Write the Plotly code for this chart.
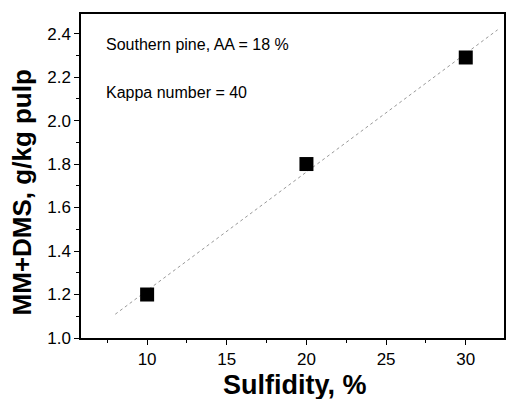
import numpy as np
import plotly.graph_objects as go

sulfidity = [10, 20, 30]
mm_dms = [1.2, 1.8, 2.29]

coef = np.polyfit(sulfidity, mm_dms, 1)
fit_x = [8, 32]
fit_y = [float(np.polyval(coef, v)) for v in fit_x]

fig = go.Figure()
fig.add_trace(go.Scatter(x=fit_x, y=fit_y, mode="lines",
                         line=dict(color="#999", width=1, dash="dot"), showlegend=False))
fig.add_trace(go.Scatter(x=sulfidity, y=mm_dms, mode="markers",
                         marker=dict(symbol="square", size=14, color="black"), showlegend=False))

fig.add_annotation(x=0.054, y=0.907, xref="paper", yref="paper", text="Southern pine, AA = 18 %",
                   showarrow=False, xanchor="left", yanchor="middle", font=dict(size=16, color="black"))
fig.add_annotation(x=0.054, y=0.759, xref="paper", yref="paper", text="Kappa number = 40",
                   showarrow=False, xanchor="left", yanchor="middle", font=dict(size=16, color="black"))

# axis titles
fig.add_annotation(x=-0.139, y=0.45, xref="paper", yref="paper", text="<b>MM+DMS, g/kg pulp</b>",
                   textangle=-90, showarrow=False, xanchor="center", yanchor="middle",
                   font=dict(size=26, color="black"))
fig.add_annotation(x=0.506, y=-0.145, xref="paper", yref="paper", text="<b>Sulfidity, %</b>",
                   showarrow=False, xanchor="center", yanchor="middle",
                   font=dict(size=27, color="black"))

fig.update_layout(
    width=507, height=399,
    margin=dict(l=81, r=1, t=14, b=61),
    plot_bgcolor="white", paper_bgcolor="white",
    font=dict(family="Liberation Sans, Arial", color="black"),
    xaxis=dict(range=[5.85, 32.4], tickvals=[10, 15, 20, 25, 30], ticks="outside", ticklen=5,
               tickcolor="black", showline=True, linecolor="black", linewidth=1.5, mirror=True,
               showgrid=False, zeroline=False, tickfont=dict(size=17),
               minor=dict(tickvals=[7.5, 12.5, 17.5, 22.5, 27.5, 32.5], ticks="outside", ticklen=3, tickcolor="black")),
    yaxis=dict(range=[1.0, 2.49], tickvals=[1.0, 1.2, 1.4, 1.6, 1.8, 2.0, 2.2, 2.4], tickformat=".1f",
               ticks="outside", ticklen=5, tickcolor="black", showline=True, linecolor="black", linewidth=1.5,
               mirror=True, showgrid=False, zeroline=False, tickfont=dict(size=17),
               minor=dict(tickvals=[1.1, 1.3, 1.5, 1.7, 1.9, 2.1, 2.3], ticks="outside", ticklen=3, tickcolor="black")),
)

fig.write_html("out.html")
